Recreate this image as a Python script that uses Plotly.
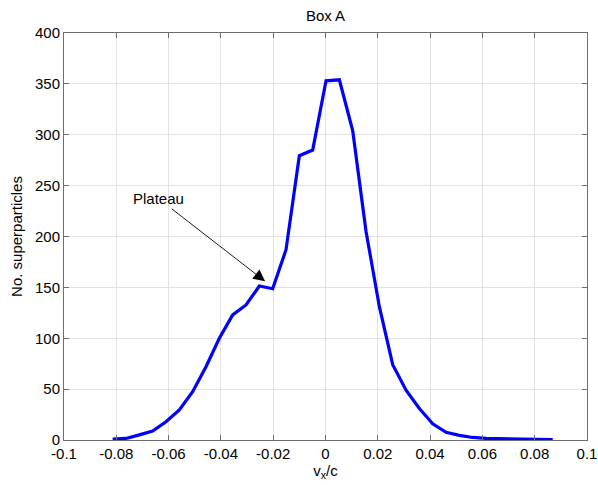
import plotly.graph_objects as go

# bin centres (v_x / c)
vx = [-0.0814, -0.0763, -0.0712, -0.0661, -0.0610, -0.0559, -0.0508, -0.0457,
      -0.0406, -0.0355, -0.0304, -0.0253, -0.0202, -0.0151, -0.0100, -0.0049,
      0.0002, 0.0053, 0.0104, 0.0155, 0.0206, 0.0257, 0.0308, 0.0359,
      0.0410, 0.0461, 0.0512, 0.0563, 0.0614, 0.0665, 0.0716, 0.0767,
      0.0818, 0.0869]
counts = [1.0, 1.5, 5.0, 8.8, 18.0, 29.5, 47.5, 72.0,
          100.0, 123.0, 132.7, 151.3, 148.7, 187.0, 279.4, 285.0,
          353.0, 354.0, 304.0, 205.0, 131.0, 74.0, 49.0, 31.0,
          16.0, 7.5, 4.5, 2.5, 1.5, 1.2, 1.2, 1.0,
          0.6, 0.3]

x_ticks = [-0.1, -0.08, -0.06, -0.04, -0.02, 0, 0.02, 0.04, 0.06, 0.08, 0.1]
x_ticklabels = ["-0.1", "-0.08", "-0.06", "-0.04", "-0.02", "0", "0.02", "0.04", "0.06", "0.08", "0.1"]
y_ticks = [0, 50, 100, 150, 200, 250, 300, 350, 400]
y_ticklabels = ["0", "50", "100", "150", "200", "250", "300", "350", "400"]

font_family = "Liberation Sans, Arial, sans-serif"

fig = go.Figure()
fig.add_trace(go.Scatter(x=vx, y=counts, mode="lines",
                         line=dict(color="#0000ff", width=3.2),
                         showlegend=False, hoverinfo="skip"))

fig.add_annotation(x=-0.0231, y=156, xref="x", yref="y",
                   ax=-0.0637, ay=237, axref="x", ayref="y",
                   text="Plateau", showarrow=True,
                   arrowhead=2, arrowsize=2.6, arrowwidth=0.9, arrowcolor="black",
                   font=dict(family=font_family, size=15, color="black"),
                   standoff=0, startstandoff=0)

axis_common = dict(showline=True, linecolor="#6e6e6e", linewidth=1,
                   mirror="ticks", ticks="inside", ticklen=5, tickcolor="#6e6e6e",
                   showgrid=True, gridcolor="#e2e2e2", gridwidth=1,
                   zeroline=False, automargin=False,
                   tickfont=dict(family=font_family, size=15, color="black"))

fig.update_xaxes(range=[-0.1, 0.1], tickvals=x_ticks, ticktext=x_ticklabels,
                 title=dict(text="v<sub>x</sub>/c", standoff=3,
                            font=dict(family=font_family, size=15, color="black")),
                 **axis_common)
fig.update_yaxes(range=[0, 400], tickvals=y_ticks, ticktext=y_ticklabels,
                 title=dict(text="No. superparticles", standoff=8,
                            font=dict(family=font_family, size=15, color="black")),
                 **axis_common)

fig.update_layout(width=598, height=485,
                  margin=dict(l=64, r=11, t=33, b=45),
                  paper_bgcolor="white", plot_bgcolor="white",
                  title=dict(text="Box A", x=0.5443, xanchor="center",
                             y=0.967, yanchor="middle",
                             font=dict(family=font_family, size=15, color="black")))

fig.write_html("out.html")
